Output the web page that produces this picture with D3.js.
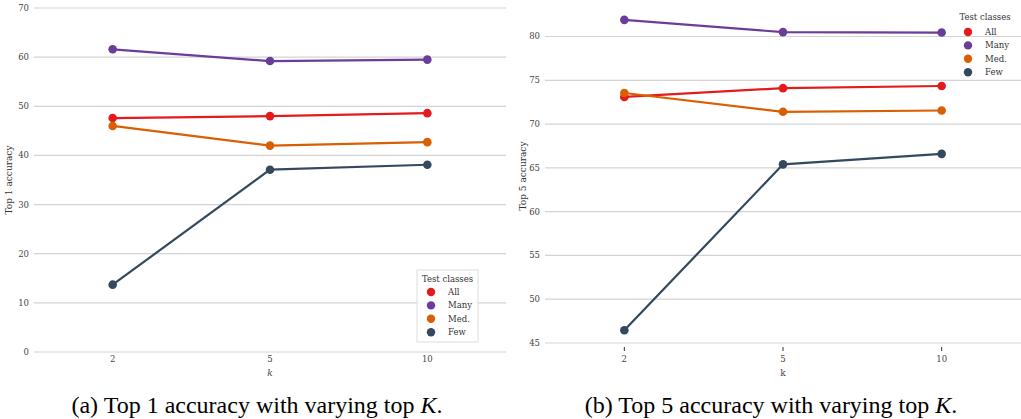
<!DOCTYPE html>
<html><head><meta charset="utf-8">
<script src="https://cdn.jsdelivr.net/npm/d3@7"></script>
<style>body{margin:0;background:#fff}svg{display:block}
.serif{font-family:"Liberation Serif","Times New Roman",Times,serif}
.tick{font-family:"DejaVu Serif","Liberation Serif",serif}
</style>
</head><body>
<svg id="c" width="1021" height="419"></svg>
<script>
const kValues = ["2", "5", "10"];
const seriesNames = ["All", "Many", "Med.", "Few"];
const seriesColors = ["#e41a1c", "#6a3d9a", "#d95f02", "#34495e"];
const top1All = [47.6, 48.0, 48.6];
const top1Many = [61.6, 59.2, 59.5];
const top1Med = [46.0, 42.0, 42.7];
const top1Few = [13.7, 37.1, 38.1];
const top5All = [73.1, 74.1, 74.35];
const top5Many = [81.9, 80.5, 80.45];
const top5Med = [73.55, 71.4, 71.55];
const top5Few = [46.45, 65.4, 66.6];
const top1Ticks = [0, 10, 20, 30, 40, 50, 60, 70];
const top5Ticks = [45, 50, 55, 60, 65, 70, 75, 80];

const svg = d3.select("#c");
const TF = 8.5;

function panel(cfg) {
  const g = svg.append("g");
  const x = d3.scalePoint().domain(kValues).range(cfg.xr).padding(0.5);
  const y = d3.scaleLinear().domain(cfg.yd).range(cfg.yr);
  g.selectAll("line.grid").data(cfg.ticks).enter().append("line")
    .attr("x1", cfg.xr[0]).attr("x2", cfg.xr[1])
    .attr("y1", d => y(d)).attr("y2", d => y(d))
    .attr("stroke", "#d4d4d4").attr("stroke-width", 1.2);
  g.selectAll("text.yt").data(cfg.ticks).enter().append("text").attr("class", "tick")
    .attr("x", cfg.xr[0] - 5).attr("y", d => y(d)).attr("dy", "0.35em")
    .attr("text-anchor", "end").attr("font-size", TF)
    .attr("fill", "#444").text(d => d);
  const base = y(cfg.yd[0]);
  if (cfg.xTickMarks) {
    g.selectAll("line.xt").data(kValues).enter().append("line")
      .attr("x1", d => x(d)).attr("x2", d => x(d))
      .attr("y1", base + 4).attr("y2", base + 8)
      .attr("stroke", "#333").attr("stroke-width", 1);
  }
  g.selectAll("text.xt").data(kValues).enter().append("text").attr("class", "tick")
    .attr("x", d => x(d)).attr("y", base + cfg.xLabelOff)
    .attr("text-anchor", "middle").attr("font-size", TF)
    .attr("fill", "#444").text(d => d);
  g.append("text").attr("class", "tick").attr("x", x("5"))
    .attr("y", 376).attr("text-anchor", "middle")
    .attr("font-size", 9).attr("font-style", cfg.kItalic ? "italic" : "normal")
    .attr("fill", "#444").text("k");
  g.append("text").attr("class", "tick").attr("transform", `translate(${cfg.ylabX},${cfg.ylabY}) rotate(-90)`)
    .attr("text-anchor", "middle").attr("font-size", 9)
    .attr("fill", "#333").text(cfg.ylabel);
  const line = d3.line().x((d, i) => x(kValues[i])).y(d => y(d));
  cfg.series.forEach((s, si) => {
    g.append("path").datum(s).attr("d", line).attr("fill", "none")
      .attr("stroke", seriesColors[si]).attr("stroke-width", 2.2);
    g.selectAll(null).data(s).enter().append("circle")
      .attr("cx", (d, i) => x(kValues[i])).attr("cy", d => y(d)).attr("r", 4.3)
      .attr("fill", seriesColors[si]);
  });
  const L = cfg.legend;
  const lg = g.append("g");
  if (L.box) {
    lg.append("rect").attr("x", L.bx).attr("y", L.by).attr("width", L.bw).attr("height", L.bh)
      .attr("fill", "rgba(255,255,255,0.85)").attr("stroke", "#ddd").attr("stroke-width", 1);
  }
  lg.append("text").attr("class", "tick").attr("x", L.tx).attr("y", L.ty).attr("dy", "0.35em")
    .attr("text-anchor", "middle").attr("font-size", TF)
    .attr("fill", "#333").text("Test classes");
  seriesNames.forEach((n, i) => {
    lg.append("circle").attr("cx", L.mx).attr("cy", L.y0 + i * L.dy).attr("r", 4.2)
      .attr("fill", seriesColors[i]);
    lg.append("text").attr("class", "tick").attr("x", L.lx).attr("y", L.y0 + i * L.dy).attr("dy", "0.35em")
      .attr("font-size", TF).attr("fill", "#333").text(n);
  });
  const cap = svg.append("text").attr("class", "serif").attr("x", cfg.capX).attr("y", 413).attr("text-anchor", "middle")
    .attr("font-size", 24).attr("fill", "#000");
  cap.append("tspan").text(cfg.caption);
  cap.append("tspan").attr("font-style", "italic").text("K");
  cap.append("tspan").text(".");
}

panel({
  xr: [34, 506], yd: [0, 70], yr: [352, 8], ticks: top1Ticks,
  series: [top1All, top1Many, top1Med, top1Few],
  xTickMarks: false, xLabelOff: 10, kItalic: true,
  ylabel: "Top 1 accuracy", ylabX: 12, ylabY: 180,
  legend: { box: true, bx: 417, by: 270, bw: 61, bh: 72, tx: 447.5, ty: 279, mx: 431, lx: 448, y0: 292, dy: 13.4 },
  caption: "(a) Top 1 accuracy with varying top ", capX: 257
});
panel({
  xr: [545, 1021], yd: [45, 80], yr: [343, 36.5], ticks: top5Ticks,
  series: [top5All, top5Many, top5Med, top5Few],
  xTickMarks: true, xLabelOff: 19, kItalic: false,
  ylabel: "Top 5 accuracy", ylabX: 526, ylabY: 176,
  legend: { box: false, tx: 985, ty: 17, mx: 968, lx: 985, y0: 32, dy: 13.4 },
  caption: "(b) Top 5 accuracy with varying top ", capX: 771
});
</script>
</body></html>
